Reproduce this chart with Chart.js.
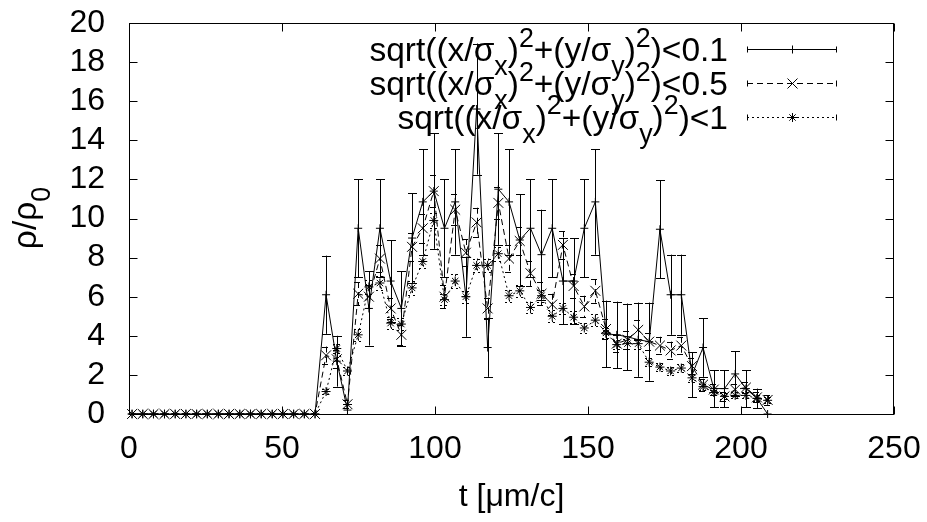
<!DOCTYPE html>
<html>
<head>
<meta charset="utf-8">
<script src="https://cdn.jsdelivr.net/npm/chart.js@4.4.1/dist/chart.umd.min.js"></script>
<style>
  html, body { margin: 0; padding: 0; background: #fff; }
  #wrap { width: 927px; height: 522px; }
</style>
</head>
<body>
<div id="wrap"><canvas id="c" width="927" height="522"></canvas></div>
<script>
// t [um/c]
const times = [
  1.0, 4.5, 8.0, 11.6, 15.1, 18.6, 22.1, 25.6, 29.2, 32.7,
  36.2, 39.7, 43.2, 46.8, 50.3, 53.8, 57.3, 60.8, 64.4, 67.9,
  71.4, 74.9, 78.4, 82.0, 85.5, 89.0, 92.5, 96.0, 99.6, 103.1,
  106.6, 110.1, 113.6, 117.2, 120.7, 124.2, 127.7, 131.2, 134.8, 138.3,
  141.8, 145.3, 148.8, 152.4, 155.9, 159.4, 162.9, 166.4, 170.0, 173.5,
  177.0, 180.5, 184.0, 187.6, 191.1, 194.6, 198.1, 201.6, 205.2, 208.7
];

// r < 0.1
const dens01 = [
  0, 0, 0, 0, 0, 0, 0, 0, 0, 0, 0, 0, 0, 0, 0, 0, 0, 0,
  6.1, 2.7, 0.2, 9.5, 5.4, 9.5, 6.8, 5.4, 9.0, 10.85,
  11.4, 9.5, 10.85, 6.0, 15.6, 3.4, 11.5, 10.85, 8.9, 9.5,
  8.15, 9.5, 6.8, 6.8, 9.5, 10.85, 4.1, 4.05, 3.95, 3.8,
  3.7, 9.45, 6.1, 6.1, 2.0, 3.4, 1.3, 1.3, 2.05, 1.3, 0.8, 0.0
];
const err01 = [
  0, 0, 0, 0, 0, 0, 0, 0, 0, 0, 0, 0, 0, 0, 0, 0, 0, 0,
  2.0, 1.3, 0.3, 2.5, 1.9, 2.5, 2.1, 1.9, 2.3, 2.7,
  2.95, 2.5, 2.7, 2.05, 3.35, 1.5, 2.85, 2.7, 2.35, 2.5,
  2.3, 2.5, 2.2, 2.2, 2.5, 2.7, 1.7, 1.7, 1.7, 1.9,
  2.0, 2.5, 2.05, 2.05, 1.15, 1.5, 0.95, 0.95, 1.15, 0.95, 0.5, 0
];

// r < 0.5
const dens05 = [
  0, 0, 0, 0, 0, 0, 0, 0, 0, 0, 0, 0, 0, 0, 0, 0, 0, 0,
  3.0, 2.8, 0.5, 6.15, 6.0, 7.95, 5.4, 4.05, 8.55, 9.5,
  11.4, 6.0, 10.45, 8.25, 9.8, 5.4, 10.8, 7.95, 8.85, 7.2,
  6.15, 5.6, 8.65, 6.55, 5.5, 6.3, 4.35, 3.6, 3.8, 4.3,
  3.7, 3.5, 3.25, 3.5, 2.45, 1.5, 1.25, 0.9, 1.25, 1.35, 0.85, 0.72
];
const err05 = [
  0, 0, 0, 0, 0, 0, 0, 0, 0, 0, 0, 0, 0, 0, 0, 0, 0, 0,
  0.45, 0.45, 0.2, 0.6, 0.6, 0.7, 0.55, 0.5, 0.7, 0.75,
  0.8, 0.6, 0.8, 0.7, 0.75, 0.55, 0.8, 0.7, 0.7, 0.65,
  0.6, 0.55, 0.7, 0.6, 0.55, 0.6, 0.5, 0.45, 0.45, 0.5,
  0.45, 0.45, 0.45, 0.45, 0.4, 0.3, 0.3, 0.25, 0.3, 0.3, 0.25, 0.25
];

// r < 1
const dens1 = [
  0, 0, 0, 0, 0, 0, 0, 0, 0, 0, 0, 0, 0, 0, 0, 0, 0, 0,
  1.15, 3.35, 2.2, 4.05, 6.5, 6.7, 4.65, 4.6, 6.45, 7.8,
  9.9, 5.85, 6.8, 6.0, 7.6, 7.6, 8.2, 6.05, 6.3, 5.45,
  6.05, 5.0, 5.4, 4.95, 4.4, 4.8, 4.15, 3.55, 3.6, 3.6,
  2.65, 2.4, 2.2, 2.35, 1.85, 1.4, 1.1, 0.9, 0.95, 0.95, 0.8, 0.7
];
const err1 = [
  0, 0, 0, 0, 0, 0, 0, 0, 0, 0, 0, 0, 0, 0, 0, 0, 0, 0,
  0.15, 0.25, 0.2, 0.3, 0.35, 0.35, 0.3, 0.3, 0.35, 0.35,
  0.4, 0.3, 0.35, 0.3, 0.35, 0.35, 0.35, 0.3, 0.3, 0.3,
  0.3, 0.3, 0.3, 0.3, 0.25, 0.3, 0.25, 0.25, 0.25, 0.25,
  0.2, 0.2, 0.2, 0.2, 0.2, 0.15, 0.15, 0.15, 0.15, 0.15, 0.15, 0.15
];

const xTicks = [0, 50, 100, 150, 200, 250];
const yTicks = [0, 2, 4, 6, 8, 10, 12, 14, 16, 18, 20];
const limits = ["<0.1", "<0.5", "<1"];

const FONT = "'Liberation Sans', Arial, sans-serif";
const FS = 32;
const KEY_FS = 33.5;

function pts(vals) {
  return vals.map((v, i) => ({ x: times[i], y: v }));
}

// text with sub/superscripts: [text, shift] shift 1 = sup, -1 = sub
function richWidth(ctx, parts, size) {
  let w = 0;
  parts.forEach(p => {
    ctx.font = (p[1] ? size * 0.8 : size) + "px " + FONT;
    w += ctx.measureText(p[0]).width;
  });
  return w;
}
function drawRich(ctx, parts, x, base, size) {
  parts.forEach(p => {
    ctx.font = (p[1] ? size * 0.8 : size) + "px " + FONT;
    ctx.fillText(p[0], x, base - p[1] * size * 0.43);
    x += ctx.measureText(p[0]).width;
  });
}

function marker(ctx, kind, x, y) {
  ctx.beginPath();
  if (kind === "cross" || kind === "star") {
    const r = kind === "star" ? 4.5 : 4;
    ctx.moveTo(x - r, y); ctx.lineTo(x + r, y);
    ctx.moveTo(x, y - r); ctx.lineTo(x, y + r);
  }
  if (kind === "crossRot" || kind === "star") {
    const r = kind === "star" ? 3.2 : 5;
    ctx.moveTo(x - r, y - r); ctx.lineTo(x + r, y + r);
    ctx.moveTo(x - r, y + r); ctx.lineTo(x + r, y - r);
  }
  ctx.stroke();
}

const series = [
  { data: dens01, err: err01, dash: [], point: "cross", radius: 4 },
  { data: dens05, err: err05, dash: [6, 4], point: "crossRot", radius: 7 },
  { data: dens1, err: err1, dash: [2, 3], point: "star", radius: 4.5 }
];

function noPad(s) {
  s.paddingTop = 0; s.paddingBottom = 0;
  s.paddingLeft = 0; s.paddingRight = 0;
}

const gnuplotLook = {
  id: "gnuplotLook",
  beforeDraw(chart) {
    const ctx = chart.ctx;
    ctx.save();
    ctx.fillStyle = "#fff";
    ctx.fillRect(0, 0, chart.width, chart.height);
    ctx.restore();
  },
  afterDatasetsDraw(chart) {
    const ctx = chart.ctx;
    const xs = chart.scales.x, ys = chart.scales.y;
    ctx.save();
    ctx.strokeStyle = "#000";
    ctx.lineWidth = 1;
    // error bars
    series.forEach(s => {
      ctx.setLineDash(s.dash);
      s.err.forEach((e, i) => {
        if (!e) return;
        const px = Math.round(xs.getPixelForValue(times[i])) + 0.5;
        const top = Math.max(ys.getPixelForValue(s.data[i] + e), chart.chartArea.top);
        const bot = Math.min(ys.getPixelForValue(s.data[i] - e), chart.chartArea.bottom);
        ctx.beginPath();
        ctx.moveTo(px, top); ctx.lineTo(px, bot);
        ctx.moveTo(px - 4.5, Math.round(top) + 0.5); ctx.lineTo(px + 4.5, Math.round(top) + 0.5);
        if (bot < chart.chartArea.bottom) {
          ctx.moveTo(px - 4.5, Math.round(bot) + 0.5); ctx.lineTo(px + 4.5, Math.round(bot) + 0.5);
        }
        ctx.stroke();
      });
    });
    ctx.setLineDash([]);
    // frame and inward ticks
    const a = chart.chartArea;
    const L = Math.round(a.left) + 0.5, R = Math.round(a.right) - 0.5;
    const T = Math.round(a.top) + 0.5, B = Math.round(a.bottom) + 0.5;
    ctx.strokeRect(L, T, R - L, B - T);
    ctx.beginPath();
    xTicks.forEach(v => {
      const px = Math.round(xs.getPixelForValue(v)) + 0.5;
      ctx.moveTo(px, B); ctx.lineTo(px, B - 8);
      ctx.moveTo(px, T); ctx.lineTo(px, T + 8);
    });
    yTicks.forEach(v => {
      const py = Math.round(ys.getPixelForValue(v)) + 0.5;
      ctx.moveTo(L, py); ctx.lineTo(L + 8, py);
      ctx.moveTo(R, py); ctx.lineTo(R - 8, py);
    });
    ctx.stroke();
    ctx.restore();
  },
  afterDraw(chart) {
    const ctx = chart.ctx;
    ctx.save();
    ctx.fillStyle = "#000";
    ctx.strokeStyle = "#000";
    ctx.lineWidth = 1;
    ctx.textBaseline = "alphabetic";
    // key
    const bases = [61, 95, 128.5];
    series.forEach((s, i) => {
      const parts = [["sqrt((x/σ", 0], ["x", -1], [")", 0], ["2", 1], ["+(y/σ", 0], ["y", -1], [")", 0], ["2", 1], [")" + limits[i], 0]];
      const w = richWidth(ctx, parts, KEY_FS);
      drawRich(ctx, parts, 728 - w, bases[i], KEY_FS);
      const ly = Math.round(bases[i] - 12) + 0.5;
      ctx.setLineDash(s.dash);
      ctx.beginPath();
      ctx.moveTo(747, ly); ctx.lineTo(837, ly);
      ctx.stroke();
      ctx.setLineDash([]);
      ctx.beginPath();
      ctx.moveTo(747.5, ly - 3); ctx.lineTo(747.5, ly + 3);
      ctx.moveTo(836.5, ly - 3); ctx.lineTo(836.5, ly + 3);
      ctx.stroke();
      marker(ctx, s.point, 792.5, ly);
    });
    // y title
    const yParts = [["ρ/ρ", 0], ["0", -1]];
    const yw = richWidth(ctx, yParts, KEY_FS);
    ctx.translate(36, 218);
    ctx.rotate(-Math.PI / 2);
    drawRich(ctx, yParts, -yw / 2, 0, KEY_FS);
    ctx.restore();
  }
};

Chart.defaults.font.family = FONT;
Chart.defaults.font.size = FS;
Chart.defaults.color = "#000";

new Chart(document.getElementById("c"), {
  type: "line",
  data: {
    datasets: series.map(s => ({
      data: pts(s.data),
      borderColor: "#000",
      borderWidth: 1,
      borderDash: s.dash,
      pointStyle: s.point,
      pointRadius: s.radius,
      pointBorderColor: "#000",
      pointBorderWidth: 1,
      pointBackgroundColor: "#000",
      tension: 0,
      fill: false,
      clip: false
    }))
  },
  options: {
    responsive: false,
    animation: false,
    devicePixelRatio: 1,
    layout: { padding: { left: 0, right: 33, top: 23, bottom: 0 } },
    plugins: { legend: { display: false }, tooltip: { enabled: false } },
    scales: {
      x: {
        type: "linear",
        min: 0,
        max: 250,
        grid: { display: false, drawTicks: false },
        border: { display: false },
        afterBuildTicks: s => { s.ticks = xTicks.map(v => ({ value: v })); },
        afterFit: s => { s.height = 108; noPad(s); },
        ticks: { padding: 16, maxRotation: 0, autoSkip: false },
        title: { display: true, text: "t [μm/c]", padding: { top: 0, bottom: 6 } }
      },
      y: {
        min: 0,
        max: 20,
        grid: { display: false, drawTicks: false },
        border: { display: false },
        afterBuildTicks: s => { s.ticks = yTicks.map(v => ({ value: v })); },
        afterFit: s => { s.width = 129; noPad(s); },
        ticks: { padding: 24, autoSkip: false }
      }
    }
  },
  plugins: [gnuplotLook]
});
</script>
</body>
</html>
